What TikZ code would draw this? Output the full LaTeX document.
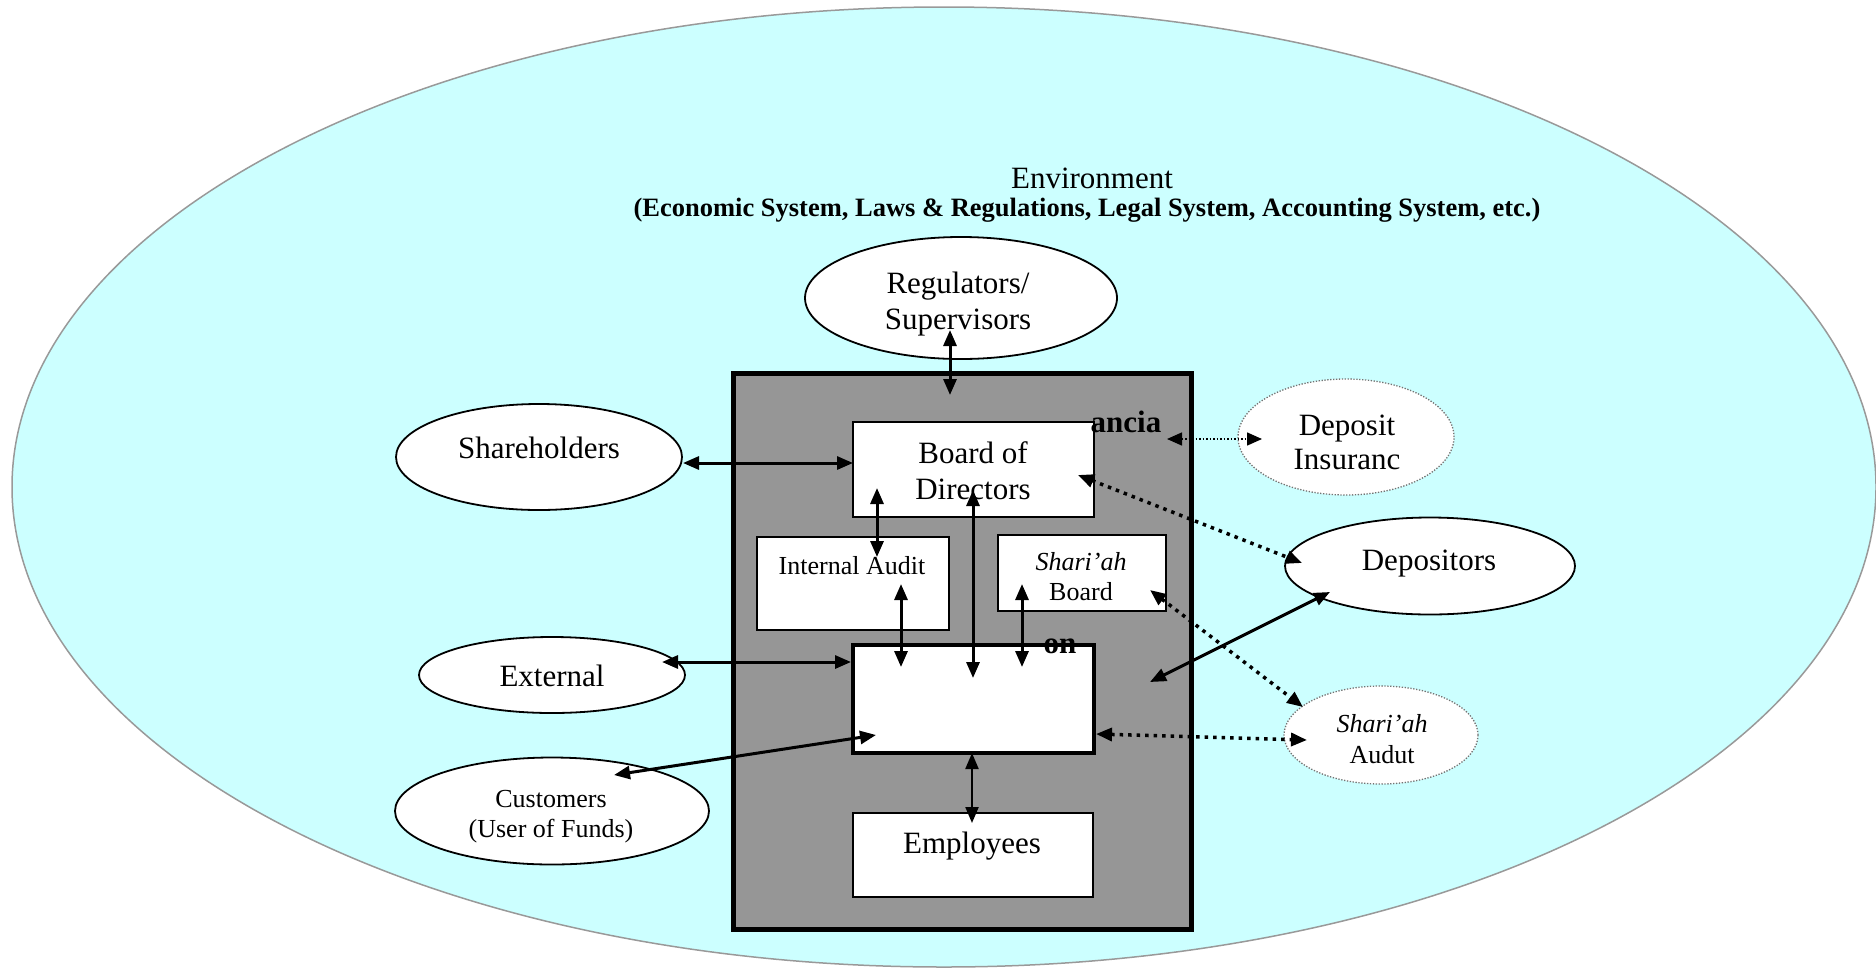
\documentclass[tikz,border=0pt]{standalone}
\usepackage{fontspec}
\setmainfont{Liberation Serif}
\usetikzlibrary{arrows.meta,shapes.geometric}
\definecolor{envfill}{HTML}{CCFFFF}
\definecolor{envline}{HTML}{999999}
\definecolor{bankgray}{HTML}{969696}
\begin{document}
\begin{tikzpicture}[x=1pt,y=-1pt,
  ell/.style={ellipse, draw=black, line width=1.8pt, fill=white, inner sep=0pt},
  dell/.style={ellipse, draw=black!55, line width=1.3pt, dash pattern=on 1.3pt off 1.6pt, fill=white, inner sep=0pt},
  box/.style={rectangle, draw=black, line width=1.5pt, fill=white, inner sep=0pt},
  txt/.style={font=\fontsize{31}{36}\selectfont, anchor=base, inner sep=0pt},
  stxt/.style={font=\fontsize{26}{30}\selectfont, anchor=base, inner sep=0pt},
  btxt/.style={font=\fontsize{31}{36}\selectfont\bfseries, anchor=base, inner sep=0pt},
  bi/.style={line width=3pt, {Triangle[length=16pt,width=13pt]}-{Triangle[length=16pt,width=13pt]}},
  dotbi/.style={bi, line width=3.5pt, dash pattern=on 3.5pt off 5pt},
  thindot/.style={line width=1.5pt, dash pattern=on 1.5pt off 2pt, {Triangle[length=15pt,width=13pt]}-{Triangle[length=15pt,width=13pt]}},
]
\useasboundingbox (0,0) rectangle (1876,967);
% environment
\path[fill=envfill, draw=envline, line width=1.5pt] (944,487) ellipse [x radius=932, y radius=480];
\node[txt] (envt) at (1092,188) {Environment};
\node[anchor=base, inner sep=0pt, font=\fontsize{26.5}{30}\selectfont\bfseries] (envs) at (1087,216) {(Economic System, Laws \& Regulations, Legal System, Accounting System, etc.)};
% regulators
\node[ell, minimum width=312pt, minimum height=122pt] (reg) at (961,298) {};
\node[txt] (regt1) at (958,293) {Regulators/};
\node[txt] (regt2) at (958,329) {Supervisors};
% bank
\node[draw=black, line width=5pt, fill=bankgray, minimum width=458pt, minimum height=556pt, inner sep=0pt] (bank) at (962,651) {};
\node[box, minimum width=241pt, minimum height=95pt] (bod) at (973.5,469.5) {};
\node[txt] (bodt1) at (973,463) {Board of};
\node[txt] (bodt2) at (973,499) {Directors};
\node[box, minimum width=192pt, minimum height=93pt] (ia) at (853,583.5) {};
\node[stxt] (iat) at (852,574) {Internal Audit};
\node[box, minimum width=168pt, minimum height=76pt] (sb) at (1082,573) {};
\node[stxt] (sbt1) at (1081,570) {\itshape Shari’ah};
\node[stxt] (sbt2) at (1081,600) {Board};
\node[box, line width=3.5pt, minimum width=241pt, minimum height=108pt] (mgmt) at (973.5,699) {};
\node[box, minimum width=240pt, minimum height=84pt] (emp) at (973,855) {};
\node[txt] (empt) at (972,853) {Employees};
\node[btxt] (anc) at (1126,432) {ancia};
\node[btxt] (on) at (1060,653) {on};
% stakeholders
\node[ell, minimum width=286pt, minimum height=106pt] (sh) at (539,457) {};
\node[txt] (sht) at (539,458) {Shareholders};
\node[dell, minimum width=216pt, minimum height=116pt] (di) at (1346,437) {};
\node[txt] (dit1) at (1347,435) {Deposit};
\node[txt] (dit2) at (1347,469) {Insuranc};
\node[ell, minimum width=290pt, minimum height=97pt] (dep) at (1430,566) {};
\node[txt] (dept) at (1429,570) {Depositors};
\node[ell, minimum width=266pt, minimum height=76pt] (ext) at (552,675) {};
\node[txt] (extt) at (552,686) {External};
\node[ell, minimum width=314pt, minimum height=107pt] (cus) at (552,811) {};
\node[stxt] (cust1) at (551,807) {Customers};
\node[stxt] (cust2) at (551,837) {(User of Funds)};
\node[dell, minimum width=194pt, minimum height=98pt] (sa) at (1381,735) {};
\node[stxt] (sat1) at (1382,732) {\itshape Shari’ah};
\node[stxt] (sat2) at (1382,763) {Audut};
% connector ends
\coordinate (regA) at (950,330); \coordinate (regB) at (950,395);
\coordinate (shA) at (683,463); \coordinate (shB) at (853,463);
\coordinate (bodIA) at (877,488); \coordinate (iaTop) at (877,557);
\coordinate (iaA) at (901,584); \coordinate (mgIA) at (901,667);
\coordinate (bodM) at (973,490); \coordinate (mgB) at (973,678);
\coordinate (sbA) at (1022,584); \coordinate (mgS) at (1022,667);
\coordinate (extA) at (662,662); \coordinate (mgE) at (851,662);
\coordinate (cusA) at (614,775); \coordinate (mgC) at (876,735);
\coordinate (mgEmp) at (972,753); \coordinate (empA) at (972,823);
\coordinate (bankD) at (1150,682); \coordinate (depA) at (1330,592);
\coordinate (bodD) at (1078,475); \coordinate (depB) at (1302,563);
\coordinate (sbD) at (1150,590); \coordinate (saA) at (1303,707);
\coordinate (mgSA) at (1096,734); \coordinate (saB) at (1307,740);
\coordinate (bankDI) at (1167,439); \coordinate (diA) at (1262,439);
% connectors
\draw[bi] (regA) -- (regB);
\draw[bi] (shA) -- (shB);
\draw[bi] (bodIA) -- (iaTop);
\draw[bi] (iaA) -- (mgIA);
\draw[bi] (bodM) -- (mgB);
\draw[bi] (sbA) -- (mgS);
\draw[bi] (extA) -- (mgE);
\draw[bi] (cusA) -- (mgC);
\draw[bi, line width=2.2pt] (mgEmp) -- (empA);
\draw[bi] (bankD) -- (depA);
\draw[dotbi] (bodD) -- (depB);
\draw[dotbi] (sbD) -- (saA);
\draw[dotbi] (mgSA) -- (saB);
\draw[thindot] (bankDI) -- (diA);
\end{tikzpicture}
\end{document}
